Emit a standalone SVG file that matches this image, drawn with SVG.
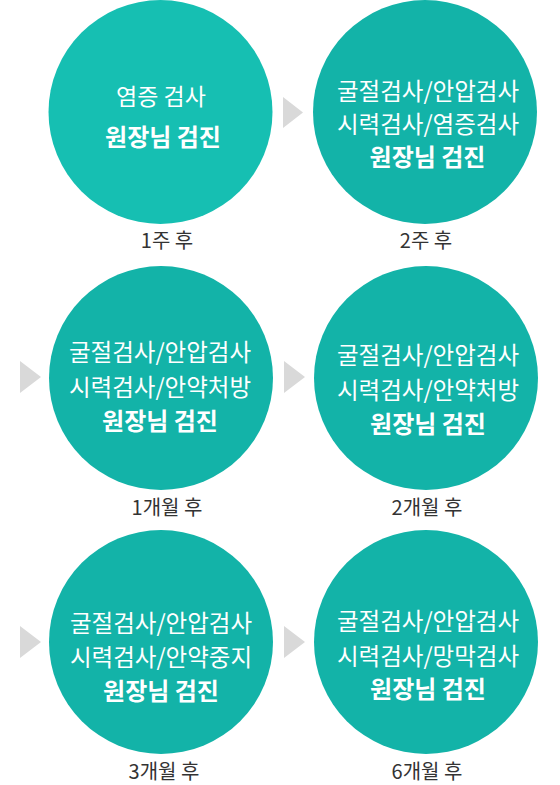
<svg xmlns="http://www.w3.org/2000/svg" width="560" height="785" viewBox="0 0 560 785">
<style>
.c1{fill:#16bfb2}
.c{fill:#13b3a8}
.t{font-family:"Noto Sans CJK KR","Noto Sans",sans-serif;font-size:23.5px;fill:#ffffff;text-anchor:middle}
.s{font-size:23px}
.b{font-weight:bold;font-size:24px}
.l{font-family:"Noto Sans CJK KR","Noto Sans",sans-serif;font-size:20px;fill:#333333;text-anchor:middle}
.a{fill:#d9d9d9}
</style>
<rect width="560" height="785" fill="#ffffff"/>
<g id="connectors">
<polygon class="a" points="283,97 303,112.5 283,128"/>
<polygon class="a" points="20,361 41,377 20,393"/>
<polygon class="a" points="284,361 305,377 284,393"/>
<polygon class="a" points="20,626 41,642 20,658"/>
<polygon class="a" points="284,626 305,642 284,658"/>
</g>
<g id="node1">
<circle class="c1" cx="160.5" cy="112" r="112"/>
<text class="t s" x="161" y="105">염증 검사</text>
<text class="t b" x="163" y="146">원장님 검진</text>
<text class="l" x="167" y="248">1주 후</text>
</g>
<g id="node2">
<circle class="c" cx="425" cy="112" r="112"/>
<text class="t" x="428" y="100">굴절검사/안압검사</text>
<text class="t" x="428" y="133">시력검사/염증검사</text>
<text class="t b" x="427.5" y="166">원장님 검진</text>
<text class="l" x="426" y="248">2주 후</text>
</g>
<g id="node3">
<circle class="c" cx="161" cy="378" r="112"/>
<text class="t" x="160" y="361">굴절검사/안압검사</text>
<text class="t" x="160" y="396">시력검사/안약처방</text>
<text class="t b" x="160" y="430">원장님 검진</text>
<text class="l" x="167" y="515">1개월 후</text>
</g>
<g id="node4">
<circle class="c" cx="426" cy="378" r="112"/>
<text class="t" x="428" y="364">굴절검사/안압검사</text>
<text class="t" x="428" y="399">시력검사/안약처방</text>
<text class="t b" x="428" y="433">원장님 검진</text>
<text class="l" x="427" y="515">2개월 후</text>
</g>
<g id="node5">
<circle class="c" cx="161" cy="642" r="112"/>
<text class="t" x="161" y="632">굴절검사/안압검사</text>
<text class="t" x="161" y="666">시력검사/안약중지</text>
<text class="t b" x="161" y="700">원장님 검진</text>
<text class="l" x="164" y="779">3개월 후</text>
</g>
<g id="node6">
<circle class="c" cx="426" cy="642" r="112"/>
<text class="t" x="428" y="630">굴절검사/안압검사</text>
<text class="t" x="428" y="665">시력검사/망막검사</text>
<text class="t b" x="428" y="698">원장님 검진</text>
<text class="l" x="427" y="779">6개월 후</text>
</g>
</svg>
